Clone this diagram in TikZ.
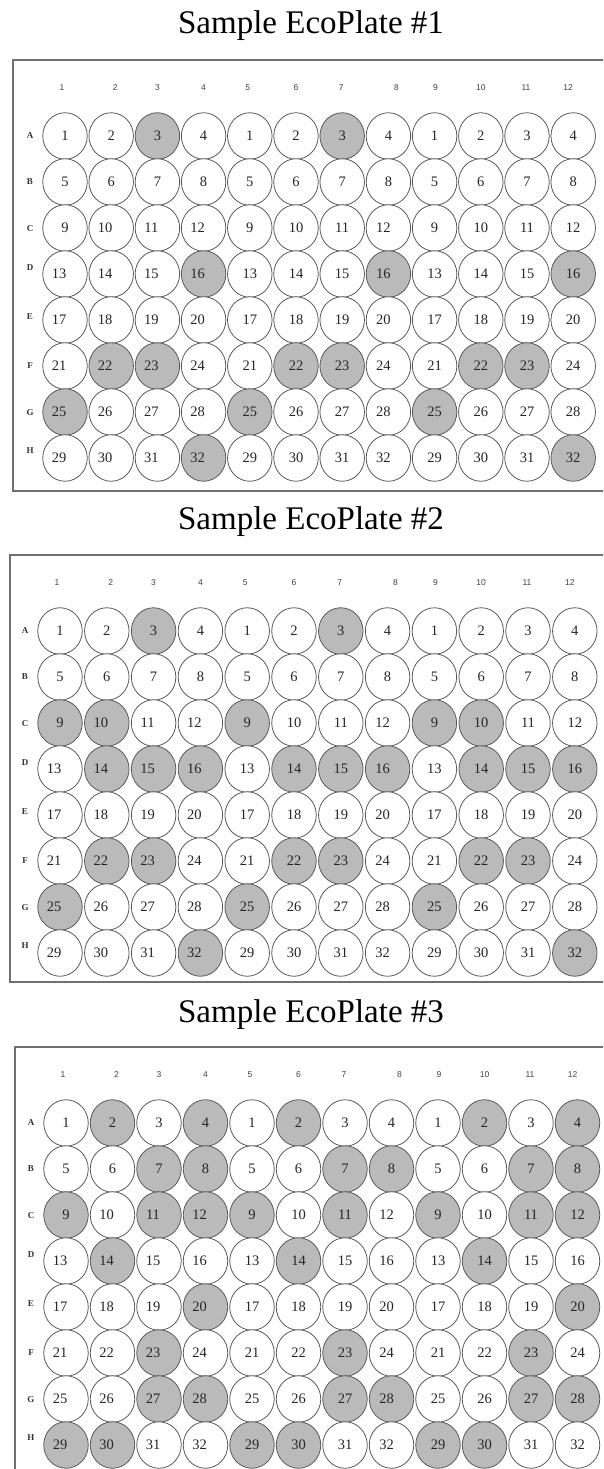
\documentclass[tikz,border=0pt]{standalone}
\usepackage{fontspec}
\setmainfont{Liberation Serif}
\newfontfamily\numfont{Liberation Sans}
\usetikzlibrary{shapes.geometric,calc}
\definecolor{wellgray}{HTML}{BABABA}
\definecolor{rimgray}{HTML}{5A5A5A}
\definecolor{framegray}{HTML}{707070}
\def\markshade#1#2#3{\foreach \c in {#3}{\expandafter\gdef\csname sh#1#2\c\endcsname{}}}
\markshade{1}{A}{3,7}
\markshade{1}{D}{4,8,12}
\markshade{1}{F}{2,3,6,7,10,11}
\markshade{1}{G}{1,5,9}
\markshade{1}{H}{4,12}
\markshade{2}{A}{3,7}
\markshade{2}{C}{1,2,5,9,10}
\markshade{2}{D}{2,3,4,6,7,8,10,11,12}
\markshade{2}{F}{2,3,6,7,10,11}
\markshade{2}{G}{1,5,9}
\markshade{2}{H}{4,12}
\markshade{3}{A}{2,4,6,10,12}
\markshade{3}{B}{3,4,7,8,11,12}
\markshade{3}{C}{1,3,4,5,7,9,11,12}
\markshade{3}{D}{2,6,10}
\markshade{3}{E}{4,12}
\markshade{3}{F}{3,7,11}
\markshade{3}{G}{3,4,7,8,11,12}
\markshade{3}{H}{1,2,5,6,9,10}
\begin{document}
\begin{tikzpicture}[x=1pt,y=-1pt,
  well/.style={ellipse, draw=rimgray, line width=0.8pt, minimum width=44.5pt, minimum height=46.5pt, inner sep=0pt},
  wellnum/.style={font=\fontsize{14.5}{14.5}\selectfont, text=black!85},
  collabel/.style={font=\numfont\fontsize{8.5}{8.5}\selectfont, text=black!75},
  rowlabel/.style={font=\bfseries\fontsize{9}{9}\selectfont, text=black!80},
  title/.style={font=\fontsize{33}{36}\selectfont, text=black},
  frame/.style={draw=framegray, line width=1.3pt}]
\useasboundingbox (0,0) rectangle (603,1469);
\clip (0,0) rectangle (603,1469);
\node[title] (t1) at (311,26) {Sample EcoPlate \#1};
\node[title] (t2) at (311,522) {Sample EcoPlate \#2};
\node[title] (t3) at (311,1015) {Sample EcoPlate \#3};
\foreach \p/\top/\bot/\left/\cx/\dx/\lx in {1/60/491/13/65/46.2/30, 2/555/982/10/60/46.8/25, 3/1047/1485/15/66/46.5/31}{
  \coordinate (f\p a) at (612,\top);
  \coordinate (f\p b) at (\left,\top);
  \coordinate (f\p c) at (\left,\bot);
  \coordinate (f\p d) at (612,\bot);
  \draw[frame] (f\p a) -- (f\p b) -- (f\p c) -- (f\p d);
  \foreach \c/\off in {1/-3,2/4,3/0,4/0,5/-2,6/0,7/-1,8/8,9/1,10/0,11/-1,12/-5}{
    \node[collabel] (c\p-\c) at ({\cx+(\c-1)*\dx+\off},\top+28) {\c};
  }
  \foreach \r/\roff [count=\ri from 0] in {A/0,B/0,C/1,D/-6,E/-3,F/0,G/1,H/-7}{
    \node[rowlabel] (r\p-\r) at (\lx,{\top+76+\ri*46+\roff}) {\r};
    \foreach \c in {1,...,12}{
      \pgfmathtruncatemacro\n{\ri*4+mod(\c-1,4)+1}
      \ifcsname sh\p\r\c\endcsname\def\fc{wellgray}\else\def\fc{white}\fi
      \def\nx{0}
      \ifnum\n>9 \ifnum\c<5 \def\nx{-6}\fi\ifnum\c=8 \def\nx{-5}\fi\fi
      \node[well, fill=\fc] (w\p-\r\c) at ({\cx+(\c-1)*\dx},{\top+76+\ri*46}) {};
      \node[wellnum] (n\p-\r\c) at ($(w\p-\r\c)+(\nx,0)$) {\n};
    }
  }
}
\end{tikzpicture}
\end{document}
